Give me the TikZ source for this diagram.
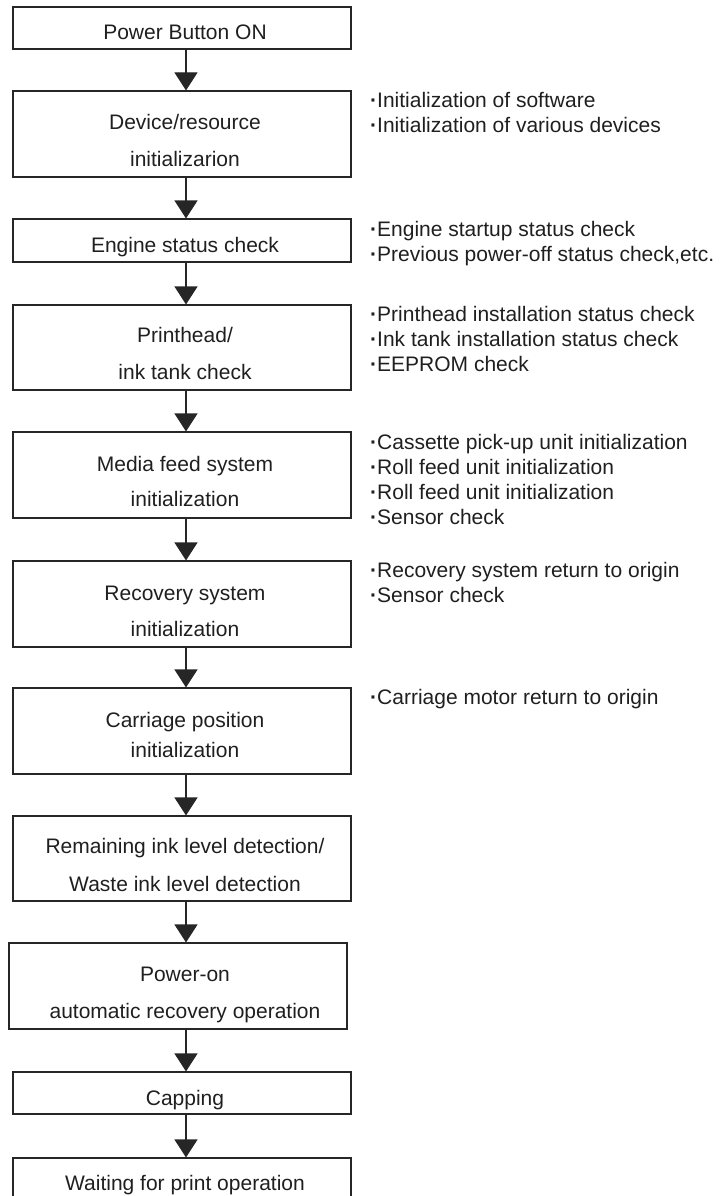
\documentclass[tikz,border=0pt]{standalone}
\usepackage{fontspec}
\setmainfont{Liberation Sans}
\usetikzlibrary{arrows.meta}
\newcommand{\bdot}{{\bfseries ·}}
\begin{document}
\begin{tikzpicture}[x=1pt,y=-1pt,
  box/.style={draw=black!85, line width=1.1pt, inner sep=0pt, minimum width=338pt},
  lbl/.style={anchor=base, inner sep=0pt, text=black!88, font=\fontsize{21}{25}\selectfont},
  note/.style={anchor=base west, inner sep=0pt, text=black!88, font=\fontsize{21}{25}\selectfont},
  flow/.style={draw=black!85, line width=1.1pt, -{Triangle[width=23pt,length=18pt]}}]
\useasboundingbox (0,0) rectangle (720,1196);
\clip (0,0) rectangle (720,1196);
\coordinate (ax) at (186,0);
% boxes
\node[box, minimum height=42pt] (b1) at (182,28) {};
\node[box, minimum height=86pt] (b2) at (182,134) {};
\node[box, minimum height=43pt] (b3) at (182,240.5) {};
\node[box, minimum height=85pt] (b4) at (182,347.5) {};
\node[box, minimum height=86pt] (b5) at (182,475) {};
\node[box, minimum height=86pt] (b6) at (182,604) {};
\node[box, minimum height=86pt] (b7) at (182,731) {};
\node[box, minimum height=85pt] (b8) at (182,858.5) {};
\node[box, minimum height=86pt] (b9) at (178,986) {};
\node[box, minimum height=42pt] (b10) at (182,1093) {};
\node[box, minimum height=42pt] (b11) at (182,1179) {};
% box labels
\node[lbl] (t1) at (185,40) {Power Button ON};
\node[lbl] (t2a) at (185,130) {Device/resource};
\node[lbl] (t2b) at (185,166) {initializarion};
\node[lbl] (t3) at (185,252) {Engine status check};
\node[lbl] (t4a) at (185,342) {Printhead/};
\node[lbl] (t4b) at (185,379) {ink tank check};
\node[lbl] (t5a) at (185,471) {Media feed system};
\node[lbl] (t5b) at (185,506) {initialization};
\node[lbl] (t6a) at (185,600) {Recovery system};
\node[lbl] (t6b) at (185,636) {initialization};
\node[lbl] (t7a) at (185,727) {Carriage position};
\node[lbl] (t7b) at (185,757) {initialization};
\node[lbl] (t8a) at (185,853) {Remaining ink level detection/};
\node[lbl] (t8b) at (185,891) {Waste ink level detection};
\node[lbl] (t9a) at (185,981) {Power-on};
\node[lbl] (t9b) at (185,1018) {automatic recovery operation};
\node[lbl] (t10) at (185,1105) {Capping};
\node[lbl] (t11) at (185,1190) {Waiting for print operation};
% connectors
\draw[flow] (b1.south -| ax) -- (b2.north -| ax);
\draw[flow] (b2.south -| ax) -- (b3.north -| ax);
\draw[flow] (b3.south -| ax) -- (b4.north -| ax);
\draw[flow] (b4.south -| ax) -- (b5.north -| ax);
\draw[flow] (b5.south -| ax) -- (b6.north -| ax);
\draw[flow] (b6.south -| ax) -- (b7.north -| ax);
\draw[flow] (b7.south -| ax) -- (b8.north -| ax);
\draw[flow] (b8.south -| ax) -- (b9.north -| ax);
\draw[flow] (b9.south -| ax) -- (b10.north -| ax);
\draw[flow] (b10.south -| ax) -- (b11.north -| ax);
% side notes
\node[note] (n2a) at (370,107.5) {\bdot Initialization of software};
\node[note] (n2b) at (370,132.5) {\bdot Initialization of various devices};
\node[note] (n3a) at (370,236) {\bdot Engine startup status check};
\node[note] (n3b) at (370,261) {\bdot Previous power-off status check,etc.};
\node[note] (n4a) at (370,321) {\bdot Printhead installation status check};
\node[note] (n4b) at (370,346) {\bdot Ink tank installation status check};
\node[note] (n4c) at (370,371) {\bdot EEPROM check};
\node[note] (n5a) at (370,449) {\bdot Cassette pick-up unit initialization};
\node[note] (n5b) at (370,474) {\bdot Roll feed unit initialization};
\node[note] (n5c) at (370,499) {\bdot Roll feed unit initialization};
\node[note] (n5d) at (370,524) {\bdot Sensor check};
\node[note] (n6a) at (370,577) {\bdot Recovery system return to origin};
\node[note] (n6b) at (370,602) {\bdot Sensor check};
\node[note] (n7a) at (370,704) {\bdot Carriage motor return to origin};
\end{tikzpicture}
\end{document}
